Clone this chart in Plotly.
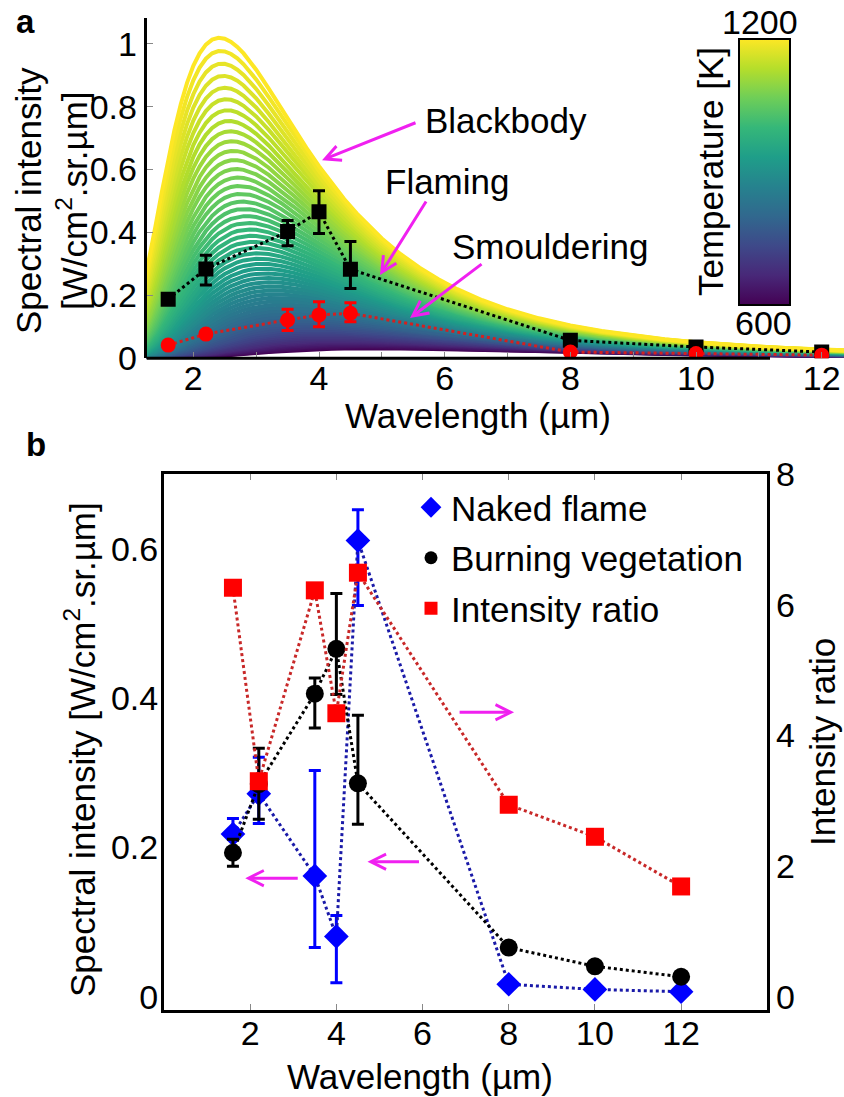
import math
import plotly.graph_objects as go
from plotly.colors import sample_colorscale

W, H = 844, 1097
FONT = "Liberation Sans, Arial, sans-serif"

# ---------------- panel a data ----------------
# temperatures of the blackbody family (colour bar 600-1200 K, 10 K steps)
temperatures_K = list(range(600, 1201, 10))
curve_wavelengths_um = [1.2, 1.3, 1.4, 1.5, 1.6, 1.7, 1.8, 1.9, 2.0, 2.1, 2.2, 2.3,
                        2.4, 2.5, 2.6, 2.7, 2.8, 2.9, 3.0, 3.2, 3.4, 3.6, 3.8, 4.0,
                        4.2, 4.4, 4.6, 4.8, 5.0, 5.3, 5.6, 5.9, 6.2, 6.6, 7.0, 7.5,
                        8.0, 8.5, 9.0, 9.5, 10.0, 10.5, 11.0, 11.5, 12.0, 12.5]

wl_meas = [1.6, 2.2, 3.5, 4.0, 4.5, 8, 10, 12]
flaming = [0.188, 0.284, 0.403, 0.466, 0.283, 0.057, 0.036, 0.020]
flaming_err_plus = [0, 0.044, 0.035, 0.067, 0.088, 0, 0, 0]
flaming_err_minus = [0, 0.051, 0.045, 0.069, 0.061, 0, 0, 0]
smouldering = [0.042, 0.077, 0.122, 0.138, 0.143, 0.020, 0.015, 0.010]
smould_err_plus = [0, 0, 0.034, 0.042, 0.034, 0, 0, 0]
smould_err_minus = [0, 0, 0.034, 0.038, 0.027, 0, 0, 0]

# ---------------- panel b data ----------------
naked_flame = [0.218, 0.272, 0.162, 0.081, 0.611, 0.017, 0.010, 0.007]
nf_err_plus = [0.021, 0.049, 0.141, 0.028, 0.041, 0, 0, 0]
nf_err_minus = [0.020, 0.040, 0.096, 0.062, 0.087, 0, 0, 0]
burning_veg = [0.193, 0.285, 0.406, 0.466, 0.286, 0.066, 0.041, 0.027]
bv_err_plus = [0.018, 0.048, 0.021, 0.074, 0.091, 0, 0, 0]
bv_err_minus = [0.018, 0.047, 0.046, 0.061, 0.055, 0, 0, 0]
intensity_ratio = [6.26, 3.30, 6.22, 4.34, 6.49, 2.94, 2.45, 1.69]

x_ticks_a = [2, 4, 6, 8, 10, 12]
y_ticks_a = [0, 0.2, 0.4, 0.6, 0.8, 1]
y_ticklabels_a = ["0", "0.2", "0.4", "0.6", "0.8", "1"]
x_ticks_b = [2, 4, 6, 8, 10, 12]
y_ticks_b = [0, 0.2, 0.4, 0.6]
y_ticklabels_b = ["0", "0.2", "0.4", "0.6"]
y_ticks_ratio = [0, 2, 4, 6, 8]


def planck_radiance(wl_um, T):
    """Blackbody spectral radiance, W / (cm^2 sr um) - Planck's law."""
    return 1.191042e4 / wl_um ** 5 / (math.exp(14387.77 / (wl_um * T)) - 1.0)


def px_x(p):
    return p / W


def px_y(p):
    return 1 - p / H


fig = go.Figure()

# blackbody family
bb_colors = sample_colorscale("Viridis", [(t - 600) / 600 for t in temperatures_K])
for T, col in zip(temperatures_K, bb_colors):
    fig.add_trace(go.Scatter(
        x=curve_wavelengths_um,
        y=[planck_radiance(l, T) for l in curve_wavelengths_um],
        mode="lines", line=dict(color=col, width=4),
        xaxis="x", yaxis="y", showlegend=False, hoverinfo="skip"))

# colour bar carrier
fig.add_trace(go.Scatter(
    x=[None, None], y=[None, None], mode="markers", xaxis="x", yaxis="y",
    showlegend=False, hoverinfo="skip",
    marker=dict(color=[min(temperatures_K), max(temperatures_K)],
                cmin=min(temperatures_K), cmax=max(temperatures_K),
                colorscale="Viridis", showscale=True,
                colorbar=dict(x=px_x(739), xanchor="left", y=px_y(172), yanchor="middle",
                              len=266, lenmode="pixels", thickness=51,
                              thicknessmode="pixels", xpad=0, ypad=0,
                              outlinewidth=2, outlinecolor="black",
                              showticklabels=False, ticks=""))))

# measured points panel a
fig.add_trace(go.Scatter(
    x=wl_meas, y=flaming, mode="lines+markers", xaxis="x", yaxis="y",
    line=dict(color="black", width=3, dash="dot"),
    marker=dict(symbol="square", size=15, color="black"),
    error_y=dict(type="data", array=flaming_err_plus, arrayminus=flaming_err_minus,
                 color="black", thickness=3, width=6),
    showlegend=False))
fig.add_trace(go.Scatter(
    x=wl_meas, y=smouldering, mode="lines+markers", xaxis="x", yaxis="y",
    line=dict(color="#d42020", width=3, dash="dot"),
    marker=dict(symbol="circle", size=15, color="#ff0000"),
    error_y=dict(type="data", array=smould_err_plus, arrayminus=smould_err_minus,
                 color="#ff0000", thickness=3, width=6),
    showlegend=False))

# panel b
fig.add_trace(go.Scatter(
    x=wl_meas, y=naked_flame, mode="lines+markers", xaxis="x2", yaxis="y2",
    line=dict(color="#1a1aa8", width=3, dash="dot"),
    marker=dict(symbol="diamond", size=19, color="#0000ff"),
    error_y=dict(type="data", array=nf_err_plus, arrayminus=nf_err_minus,
                 color="#0000ff", thickness=3, width=6),
    showlegend=False))
fig.add_trace(go.Scatter(
    x=wl_meas, y=burning_veg, mode="lines+markers", xaxis="x2", yaxis="y2",
    line=dict(color="black", width=3, dash="dot"),
    marker=dict(symbol="circle", size=18, color="black"),
    error_y=dict(type="data", array=bv_err_plus, arrayminus=bv_err_minus,
                 color="black", thickness=3, width=6),
    showlegend=False))
fig.add_trace(go.Scatter(
    x=wl_meas, y=intensity_ratio, mode="lines+markers", xaxis="x2", yaxis="y3",
    line=dict(color="#c82828", width=3, dash="dot"),
    marker=dict(symbol="square", size=18, color="#ff0000"),
    showlegend=False))

# legend entries (marker only)
for name, sym, col, sz in [("Naked flame", "diamond", "#0000ff", 16),
                           ("Burning vegetation", "circle", "black", 13),
                           ("Intensity ratio", "square", "#ff0000", 13)]:
    fig.add_trace(go.Scatter(x=[None], y=[None], mode="markers", name=name,
                             xaxis="x2", yaxis="y2", legendgroup=name,
                             marker=dict(symbol=sym, color=col, size=sz)))

axis_common = dict(showgrid=False, zeroline=False, linecolor="black", linewidth=3,
                   tickfont=dict(size=34, color="black", family=FONT),
                   ticks="inside", ticklen=6, tickcolor="#888888", tickwidth=1)

fig.update_layout(
    width=W, height=H,
    margin=dict(l=0, r=0, t=0, b=0, autoexpand=False),
    paper_bgcolor="white", plot_bgcolor="rgba(0,0,0,0)",
    font=dict(family=FONT, size=35, color="black"),
    xaxis=dict(domain=[px_x(146.7), 1.0], range=[1.258, 12.355], anchor="y",
               tickvals=x_ticks_a, showline=False, ticklabelstandoff=-3,
               minor=dict(dtick=1, ticks="inside", ticklen=6, tickcolor="#888888"),
               **axis_common),
    yaxis=dict(domain=[px_y(358.3), px_y(18.3)], range=[0, 1.081], anchor="x",
               tickvals=y_ticks_a, ticktext=y_ticklabels_a, showline=True,
               ticklabelstandoff=0, **axis_common),
    xaxis2=dict(domain=[px_x(164), px_x(767.3)], range=[0, 14], anchor="y2",
                tickvals=x_ticks_b, showline=True, mirror="ticks",
                ticklabelstandoff=-9, **axis_common),
    yaxis2=dict(domain=[px_y(1010), px_y(474)], range=[-0.0175, 0.7], anchor="x2",
                tickvals=y_ticks_b, ticktext=y_ticklabels_b, showline=True,
                ticklabelstandoff=-4,
                **{**axis_common, "ticks": ""}),
    yaxis3=dict(overlaying="y2", side="right", anchor="x2", range=[-0.2, 8.0],
                tickvals=y_ticks_ratio, showline=True, ticklabelstandoff=-1,
                **{**axis_common, "ticks": ""}),
    legend=dict(x=px_x(411), y=px_y(478), xanchor="left", yanchor="top",
                bgcolor="rgba(0,0,0,0)", borderwidth=0, tracegroupgap=2,
                font=dict(size=35, family=FONT, color="black")),
)

# panel a x-axis line (ends short of the right edge, as in the original)
fig.add_shape(type="line", xref="paper", yref="y domain", x0=px_x(146.7), x1=px_x(770),
              y0=0, y1=0, line=dict(color="black", width=3), layer="above")

ann = []


def text(x, y, s, size=35, angle=0, xanchor="center"):
    ann.append(dict(x=px_x(x), y=px_y(y), xref="paper", yref="paper", text=s,
                    showarrow=False, textangle=angle, xanchor=xanchor, yanchor="middle",
                    font=dict(size=size, family=FONT, color="black")))


# titles
text(478, 415, "Wavelength (µm)")
text(51, 201, "Spectral intensity<br>[W/cm<sup>2</sup>.sr.µm]", angle=-90)
text(420, 1076, "Wavelength (µm)")
text(80, 750, "Spectral intensity [W/cm<sup>2</sup>.sr.µm]", angle=-90)
text(822, 742, "Intensity ratio", angle=-90)
text(25, 22, "<b>a</b>", size=33)
text(36, 444, "<b>b</b>", size=33)
# colour bar labels
text(710, 172, "Temperature [K]", angle=-90)
text(760, 22, "1200", size=34)
text(763, 323, "600", size=34)
# curve labels
text(423, 120, "Blackbody", xanchor="left")
text(383, 182, "Flaming", xanchor="left")
text(450, 247, "Smouldering", xanchor="left")

MAG = "#f020f0"
arrows = [
    ("x", "y", 4.048, 0.630, 95, -38),
    ("x", "y", 4.971, 0.265, 47, -75),
    ("x", "y", 5.449, 0.128, 73, -55),
    ("x2", "y2", 1.885, 0.159, 54, 0),
    ("x2", "y2", 4.722, 0.181, 53, 0),
    ("x2", "y2", 8.124, 0.381, -56, 0),
]
for xr, yr, xx, yy, ax, ay in arrows:
    ann.append(dict(x=xx, y=yy, xref=xr, yref=yr, ax=ax, ay=ay, text="",
                    showarrow=True, arrowhead=5, arrowsize=1.0, arrowwidth=3,
                    arrowcolor=MAG))

fig.update_layout(annotations=ann)
fig.write_html("out.html", config={"displayModeBar": False},
               post_script="document.body.style.margin='0';"
                           "document.body.style.overflow='hidden';")
